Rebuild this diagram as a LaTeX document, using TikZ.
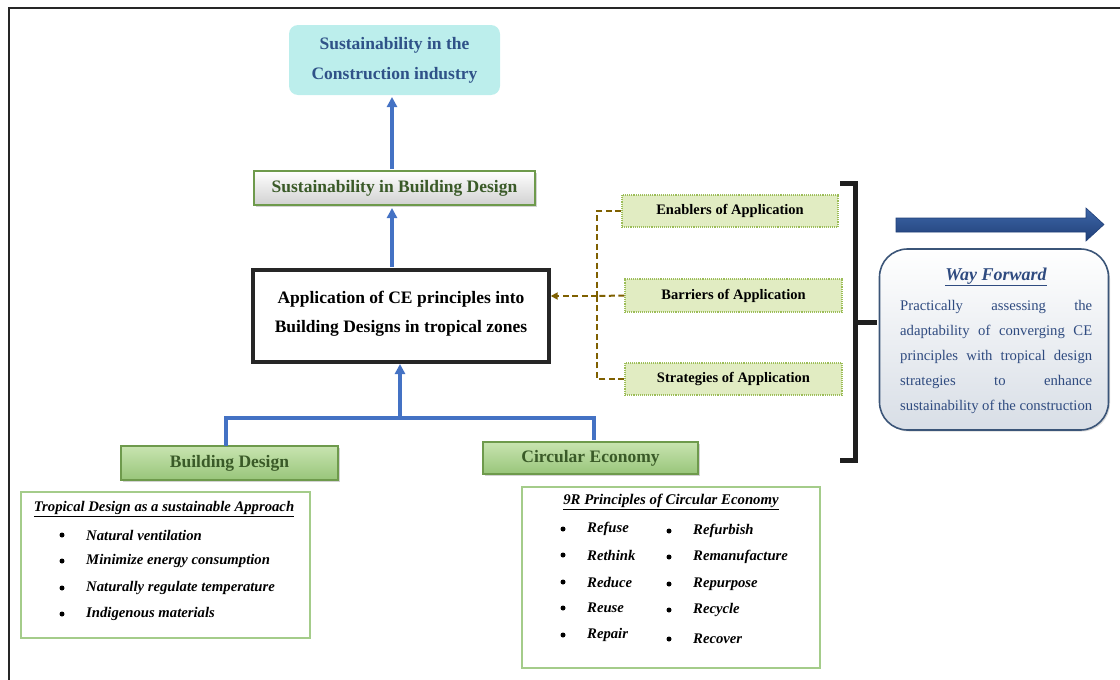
\documentclass[tikz,border=0pt]{standalone}
\usepackage{fontspec}
\setmainfont{Liberation Serif}
\usetikzlibrary{arrows.meta,shadows}
\definecolor{blueA}{HTML}{4472C4}
\definecolor{cyanfill}{HTML}{BCEEEC}
\definecolor{titleblue}{HTML}{2F5288}
\definecolor{dkgreen}{HTML}{3A5A28}
\definecolor{bevgreen}{HTML}{6E9A4C}
\definecolor{lgreen}{HTML}{C8E4B0}
\definecolor{mgreen}{HTML}{98C57A}
\definecolor{boxgreen}{HTML}{A4CC8A}
\definecolor{yfill}{HTML}{E1ECC2}
\definecolor{ydot}{HTML}{9CBD58}
\definecolor{brownd}{HTML}{7F6000}
\definecolor{wfblue}{HTML}{2F4B80}
\definecolor{wfborder}{HTML}{3B5578}
\definecolor{wffill}{HTML}{D8DEE6}
\definecolor{arrowdk}{HTML}{1F3F78}
\definecolor{arrowlt}{HTML}{3F67A8}
\newcommand{\myfs}[2]{\fontsize{#1}{#2}\selectfont}
\begin{document}
\begin{tikzpicture}[x=1pt,y=-1pt,
  bluearrow/.style={draw=blueA, line width=3.4pt, -{Triangle[length=10pt,width=10pt]}},
  blueline/.style={draw=blueA, line width=3.4pt},
  bevelgreen/.style={draw=bevgreen, line width=1.4pt, top color=lgreen, bottom color=mgreen,
     font=\bfseries\myfs{17.5}{20}, text=dkgreen, inner sep=0pt, drop shadow={shadow xshift=1.5pt, shadow yshift=-1.5pt, opacity=0.35}},
  listbox/.style={draw=boxgreen, line width=1.4pt, inner sep=0pt},
  sidebox/.style={draw=ydot, densely dotted, line width=1.1pt, fill=yfill, font=\bfseries\myfs{14.5}{16}, inner sep=0pt},
  browndash/.style={draw=brownd, line width=2pt, dash pattern=on 6pt off 3.5pt},
  itemtxt/.style={anchor=west, font=\bfseries\itshape\myfs{14.7}{16}, inner sep=0pt},
  bul/.style={circle, fill=black, inner sep=0pt, minimum size=5pt},
]
\useasboundingbox (0,0) rectangle (1120,680);
\draw[line width=1.6pt, black!85] (9,700) -- (9,8) -- (1130,8);

% top box
\node[fill=cyanfill, rounded corners=9pt, minimum width=211pt, minimum height=70pt,
  align=center, text=titleblue, font=\bfseries\myfs{17.5}{30}] (top) at (394.5,60)
  {Sustainability in the\\Construction industry};

% sustainability in building design
\node[draw=bevgreen, line width=1.5pt, top color=white, bottom color=black!18,
  minimum width=281pt, minimum height=34pt, inner sep=0pt, text=dkgreen,
  font=\bfseries\myfs{17.5}{20}, drop shadow={shadow xshift=1.5pt, shadow yshift=-1.5pt, opacity=0.35}] (sbd) at (394.5,188)
  {Sustainability in Building Design};

% main box
\node[draw=black!85, line width=3.4pt, fill=white, minimum width=296pt, minimum height=92pt,
  align=center, font=\bfseries\myfs{17.5}{29}] (main) at (401,316)
  {Application of CE principles into\\Building Designs in tropical zones\rule[-8pt]{0pt}{8pt}};

% bottom categories
\node[bevelgreen, minimum width=217pt, minimum height=34pt] (bd) at (229.5,463) {Building Design};
\node[bevelgreen, minimum width=215pt, minimum height=32pt] (ce) at (590.5,458) {Circular Economy};

% arrows
\draw[bluearrow] (392,169) -- (392,97);
\draw[bluearrow] (392,267) -- (392,208);
\coordinate (j) at (400,418);
\draw[blueline] (226,446) |- (j) -| (594,440);
\draw[bluearrow] (j) -- (400,364);

% tropical list box
\node[listbox, minimum width=289pt, minimum height=146pt] (trop) at (165.5,565) {};
\node[font=\bfseries\itshape\myfs{14.7}{16}, inner sep=0pt] (tropt) at (164,509) {\underline{Tropical Design as a sustainable Approach}};
\foreach \y/\t [count=\i] in {535/Natural ventilation, 561/Minimize energy consumption, 588/Naturally regulate temperature, 614/Indigenous materials}{
  \node[bul] (tb\i) at (62,\y) {};
  \node[itemtxt] (ti\i) at (86,\y) {\t};
}

% 9R list box
\node[listbox, minimum width=298pt, minimum height=181pt] (nine) at (671,577.5) {};
\node[font=\bfseries\itshape\myfs{14.8}{16}, inner sep=0pt] (ninet) at (671,502) {\underline{9R Principles of Circular Economy}};
\foreach \y/\t [count=\i] in {529/Refuse, 555/Rethink, 582/Reduce, 608/Reuse, 635/Repair}{
  \node[bul] (lb\i) at (563,\y) {};
  \node[itemtxt] (li\i) at (587,\y) {\t};
}
\foreach \y/\t [count=\i] in {531/Refurbish, 557/Remanufacture, 584/Repurpose, 610/Recycle, 639/Recover}{
  \node[bul] (rb\i) at (669,\y) {};
  \node[itemtxt] (ri\i) at (693,\y) {\t};
}

% side boxes
\node[sidebox, minimum width=216pt, minimum height=32pt] (en) at (730,211) {Enablers of Application};
\node[sidebox, minimum width=217pt, minimum height=33pt] (ba) at (733.5,295.5) {Barriers of Application};
\node[sidebox, minimum width=217pt, minimum height=32pt] (st) at (733.5,379) {Strategies of Application};

\coordinate (bus) at (597,296);
\draw[browndash] (en.west) -| (bus);
\draw[browndash] (st.west) -| (bus);
\draw[browndash] (ba.west) -- (bus);
\draw[browndash, -{Triangle[length=7pt,width=7pt]}] (bus) -- (main.east |- bus);

% bracket
\draw[line width=5pt, black!88, line join=miter] (840,183) -- (855,183) -- (855,460) -- (840,460);
\draw[line width=5pt, black!88] (855,322) -- (877,322);

% big arrow
\shade[top color=arrowlt, bottom color=arrowdk, draw=arrowdk, line width=0.6pt]
  (896,218) -- (1086,218) -- (1086,208) -- (1104,224.5) -- (1086,241) -- (1086,232) -- (896,232) -- cycle;

% way forward
\node[draw=wfborder, line width=1.6pt, rounded corners=28pt, top color=white, bottom color=wffill,
  minimum width=229pt, minimum height=181pt, inner sep=0pt, drop shadow={shadow xshift=1.5pt, shadow yshift=-1.5pt, opacity=0.3}] (way) at (994,339.5) {};
\node[text=wfblue, font=\bfseries\itshape\myfs{18}{20}, inner sep=0pt] (wft) at (996,277) {\underline{Way Forward}};
\node[text=wfblue, font=\myfs{14.7}{25}, align=left, anchor=north west, inner sep=0pt] (wfbody) at (900,300)
  {\makebox[192pt][s]{Practically assessing the}\\
   \makebox[192pt][s]{adaptability of converging CE}\\
   \makebox[192pt][s]{principles with tropical design}\\
   \makebox[192pt][s]{strategies to enhance}\\
   \makebox[192pt][s]{sustainability of the construction}};
\end{tikzpicture}
\end{document}
